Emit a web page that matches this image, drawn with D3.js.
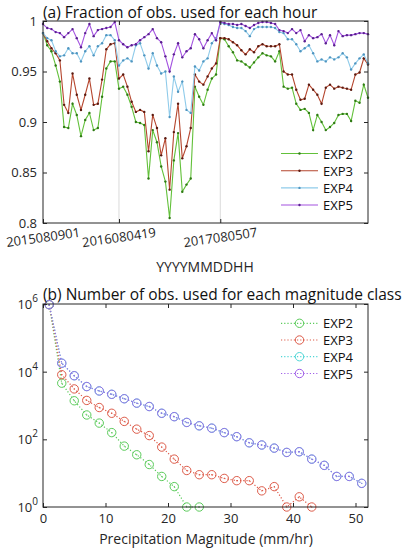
<!DOCTYPE html>
<html><head><meta charset="utf-8">
<script src="https://cdn.jsdelivr.net/npm/d3@7"></script>
<style>body{margin:0;background:#fff;} svg{display:block;font-family:"Open Sans",sans-serif;}</style>
</head><body><svg id="c" width="410" height="550"></svg>
<script>
// ---------- data: panel (a) ----------
const hourTickIndex = [0, 18, 42];
const hourTickLabels = ["2015080901", "2016080419", "2017080507"];
const fracTicks = [0.8, 0.85, 0.9, 0.95, 1];
const seriesNames = ["EXP2", "EXP3", "EXP4", "EXP5"];

const exp2Frac = [.988,.976,.970,.956,.940,.895,.894,.918,.907,.886,.902,.909,.892,.894,.925,.953,.960,.960,
  .933,.935,.927,.915,.900,.899,.897,.844,.892,.880,.856,.841,.805,.862,.889,.831,.838,.844,.935,.925,.917,.932,.943,.947,
  .983,.982,.975,.969,.961,.960,.957,.954,.959,.964,.968,.966,.965,.960,.970,.935,.933,
  .934,.918,.912,.913,.909,.892,.907,.900,.892,.895,.899,.907,.908,.908,.901,.921,.919,.937,.924];
const exp3Frac = [.988,.980,.973,.968,.961,.917,.909,.948,.927,.912,.927,.943,.917,.918,.942,.972,.977,.978,
  .943,.947,.935,.920,.910,.912,.910,.871,.907,.894,.867,.884,.833,.890,.918,.864,.876,.894,.947,.940,.937,.945,.953,.958,
  .983,.983,.982,.979,.976,.971,.967,.972,.969,.975,.977,.975,.975,.975,.977,.950,.947,
  .947,.932,.922,.923,.937,.932,.927,.918,.934,.937,.933,.935,.934,.933,.932,.947,.949,.963,.957];
const exp4Frac = [.988,.983,.981,.970,.965,.966,.973,.968,.968,.960,.970,.975,.966,.975,.978,.986,.986,.981,
  .956,.961,.963,.960,.976,.978,.966,.953,.968,.956,.948,.950,.905,.945,.930,.940,.912,.909,.955,.951,.960,.963,.978,.983,
  .998,.997,.996,.994,.993,.993,.990,.985,.992,.994,.994,.994,.994,.993,.989,.988,.982,
  .982,.977,.970,.973,.976,.968,.960,.962,.960,.964,.962,.964,.968,.964,.952,.958,.963,.967,.958];
const exp5Frac = [.997,.993,.992,.989,.988,.984,.988,.992,.983,.974,.988,.997,.985,.991,.992,.993,.994,.999,
  .981,.977,.974,.976,.977,.981,.984,.987,.992,.983,.979,.965,.950,.967,.978,.964,.970,.973,.987,.982,.973,.981,.988,.981,
  .999,.998,.997,.997,.996,.997,.995,.993,.996,.998,.999,.999,.998,.997,.991,.990,.988,
  .992,.988,.991,.980,.986,.983,.984,.987,.978,.986,.976,.990,.985,.986,.986,.987,.988,.988,.987];

// ---------- data: panel (b) ----------
const magnitude = [1,3,5,7,9,11,13,15,17,19,21,23,25,27,29,31,33,35,37,39,41,43,45,47,49,51];
const magTicks = [0, 10, 20, 30, 40, 50];
const countTicks = [1, 100, 10000, 1000000];
const countTickExp = ["0", "2", "4", "6"];
const exp2Count = [955000, 4570, 1380, 525, 302, 158, 63, 35, 18, 8, 4, 1, 1];
const exp3Count = [955000, 8130, 3090, 1413, 871, 589, 339, 200, 129, 59, 26, 12, 9, 9, 7, 6, 6, 3, 4, 1, 2, 1];
const exp4Count = [955000, 17800, 7590, 3630, 2690, 2140, 1585, 1175, 933, 589, 468, 316, 251, 214, 158, 120, 79, 68, 55, 41, 43, 26, 17, 8, 8, 5];
const exp5Count = [955000, 17800, 7590, 3630, 2690, 2140, 1585, 1175, 933, 589, 468, 316, 251, 214, 158, 120, 79, 68, 55, 41, 43, 26, 17, 8, 8, 5];

// ---------- styles ----------
const lineColA = ["#62c03a", "#b5462e", "#8fcbea", "#a352e0"];
const dotColA  = ["#2f7a14", "#5a1a10", "#4f95c0", "#5a2090"];
const colB     = ["#5acb5a", "#dd5a48", "#4fd6d6", "#a060e8"];
const axisCol = "#262626";

const svg = d3.select("#c");

// ================= Panel (a) =================
const L = 43, R = 368;
const xa = d3.scaleLinear().domain([0, 77]).range([L, R]);
const ya = d3.scaleLinear().domain([0.8, 1]).range([223, 21]);

const ga = svg.append("g");
ga.selectAll("line.grid").data(hourTickIndex.slice(1)).join("line")
  .attr("x1", d => xa(d)).attr("x2", d => xa(d))
  .attr("y1", ya(0.8)).attr("y2", ya(1))
  .attr("stroke", "#dadada").attr("stroke-width", 1);

const fracSeries = [exp2Frac, exp3Frac, exp4Frac, exp5Frac];
const lineA = d3.line().x((d, i) => xa(i)).y(d => ya(d));
fracSeries.forEach((s, k) => {
  ga.append("path").datum(s).attr("d", lineA)
    .attr("fill", "none").attr("stroke", lineColA[k]).attr("stroke-width", 1.1);
  ga.selectAll(null).data(s).join("circle")
    .attr("cx", (d, i) => xa(i)).attr("cy", d => ya(d)).attr("r", 1.2)
    .attr("fill", dotColA[k]);
});

function styleAxis(g) {
  g.select(".domain").remove();
  g.selectAll(".tick line").attr("stroke", axisCol);
  g.selectAll("text").attr("fill", axisCol).attr("font-size", 13).attr("font-family", '"Open Sans",sans-serif');
}
ga.append("g").attr("transform", `translate(${L},0)`)
  .call(d3.axisLeft(ya).tickValues(fracTicks).tickSize(-4).tickSizeOuter(0).tickPadding(6).tickFormat(d => String(d)))
  .call(styleAxis);
ga.append("g").attr("transform", `translate(${R},0)`)
  .call(d3.axisRight(ya).tickValues(fracTicks).tickSize(-4).tickSizeOuter(0).tickFormat(""))
  .call(styleAxis);
ga.append("g").attr("transform", `translate(0,${ya(0.8)})`)
  .call(d3.axisBottom(xa).tickValues(hourTickIndex).tickSize(-4).tickSizeOuter(0).tickFormat(""))
  .call(styleAxis);
ga.append("g").attr("transform", `translate(0,${ya(1)})`)
  .call(d3.axisTop(xa).tickValues(hourTickIndex).tickSize(-4).tickSizeOuter(0).tickFormat(""))
  .call(styleAxis);
ga.append("rect").attr("x", L).attr("y", ya(1)).attr("width", R - L).attr("height", ya(0.8) - ya(1))
  .attr("fill", "none").attr("stroke", axisCol).attr("stroke-width", 1);

ga.selectAll("text.xl").data(hourTickIndex).join("text")
  .attr("x", d => xa(d)).attr("y", 237)
  .attr("text-anchor", "middle").attr("dominant-baseline", "central")
  .attr("transform", d => `rotate(-8,${xa(d)},237)`)
  .attr("font-size", 13).attr("fill", axisCol)
  .text((d, i) => hourTickLabels[i]);

ga.append("text").attr("x", 205).attr("y", 272).attr("text-anchor", "middle")
  .attr("font-size", 14).attr("fill", axisCol).text("YYYYMMDDHH");
ga.append("text").attr("x", L).attr("y", 18).attr("font-size", 15.5).attr("fill", "#111")
  .text("(a) Fraction of obs. used for each hour");

const legAy = [153.5, 170.7, 187.9, 205];
seriesNames.forEach((n, k) => {
  ga.append("line").attr("x1", 281).attr("x2", 318).attr("y1", legAy[k]).attr("y2", legAy[k])
    .attr("stroke", lineColA[k]).attr("stroke-width", 1.1);
  ga.append("circle").attr("cx", 299.5).attr("cy", legAy[k]).attr("r", 1.2).attr("fill", dotColA[k]);
  ga.append("text").attr("x", 323).attr("y", legAy[k]).attr("dominant-baseline", "central")
    .attr("font-size", 13).attr("fill", "#111").text(n);
});

// ================= Panel (b) =================
const xb = d3.scaleLinear().domain([0, 52]).range([L, R]);
const yb = d3.scaleLog().domain([1, 1e6]).range([507, 304]);
const gb = svg.append("g");

const countSeries = [exp2Count, exp3Count, exp4Count, exp5Count];
const lineB = d3.line().x((d, i) => xb(magnitude[i])).y(d => yb(d));
countSeries.forEach((s, k) => {
  const op = k === 3 ? 0.85 : 1;
  gb.append("path").datum(s).attr("d", lineB)
    .attr("fill", "none").attr("stroke", colB[k]).attr("stroke-width", 1.2)
    .attr("stroke-dasharray", "1.2,2").attr("opacity", op);
  gb.selectAll(null).data(s).join("circle")
    .attr("cx", (d, i) => xb(magnitude[i])).attr("cy", d => yb(d)).attr("r", 4.2)
    .attr("fill", "none").attr("stroke", colB[k]).attr("stroke-width", 1).attr("opacity", op);
  gb.selectAll(null).data(s).join("circle")
    .attr("cx", (d, i) => xb(magnitude[i])).attr("cy", d => yb(d)).attr("r", 0.7)
    .attr("fill", colB[k]).attr("opacity", op);
});

gb.append("g").attr("transform", `translate(${L},0)`)
  .call(d3.axisLeft(yb).tickValues(countTicks).tickSize(-4).tickSizeOuter(0).tickFormat(""))
  .call(styleAxis);
gb.append("g").attr("transform", `translate(${R},0)`)
  .call(d3.axisRight(yb).tickValues(countTicks).tickSize(-4).tickSizeOuter(0).tickFormat(""))
  .call(styleAxis);
gb.append("g").attr("transform", `translate(0,${yb(1)})`)
  .call(d3.axisBottom(xb).tickValues(magTicks).tickSize(-4).tickSizeOuter(0).tickPadding(7).tickFormat(d => String(d)))
  .call(styleAxis);
gb.append("g").attr("transform", `translate(0,${yb(1e6)})`)
  .call(d3.axisTop(xb).tickValues(magTicks).tickSize(-4).tickSizeOuter(0).tickFormat(""))
  .call(styleAxis);
gb.append("rect").attr("x", L).attr("y", yb(1e6)).attr("width", R - L).attr("height", yb(1) - yb(1e6))
  .attr("fill", "none").attr("stroke", axisCol).attr("stroke-width", 1);

countTicks.forEach((v, i) => {
  const t = gb.append("text").attr("x", 38).attr("y", yb(v)).attr("text-anchor", "end")
    .attr("dominant-baseline", "central").attr("fill", axisCol).attr("font-size", 13);
  t.append("tspan").text("10");
  t.append("tspan").attr("dy", -6).attr("font-size", 10).text(countTickExp[i]);
});

gb.append("text").attr("x", 206).attr("y", 544).attr("text-anchor", "middle")
  .attr("font-size", 14).attr("fill", axisCol).text("Precipitation Magnitude (mm/hr)");
gb.append("text").attr("x", L).attr("y", 300).attr("font-size", 15.5).attr("fill", "#111")
  .text("(b) Number of obs. used for each magnitude class");

const legBy = [323.3, 340, 356.7, 373.5];
seriesNames.forEach((n, k) => {
  gb.append("line").attr("x1", 281).attr("x2", 318).attr("y1", legBy[k]).attr("y2", legBy[k])
    .attr("stroke", colB[k]).attr("stroke-width", 1.2).attr("stroke-dasharray", "1.2,2");
  gb.append("circle").attr("cx", 299.5).attr("cy", legBy[k]).attr("r", 4.2)
    .attr("fill", "none").attr("stroke", colB[k]).attr("stroke-width", 1);
  gb.append("text").attr("x", 323).attr("y", legBy[k]).attr("dominant-baseline", "central")
    .attr("font-size", 13).attr("fill", "#111").text(n);
});
</script></body></html>
